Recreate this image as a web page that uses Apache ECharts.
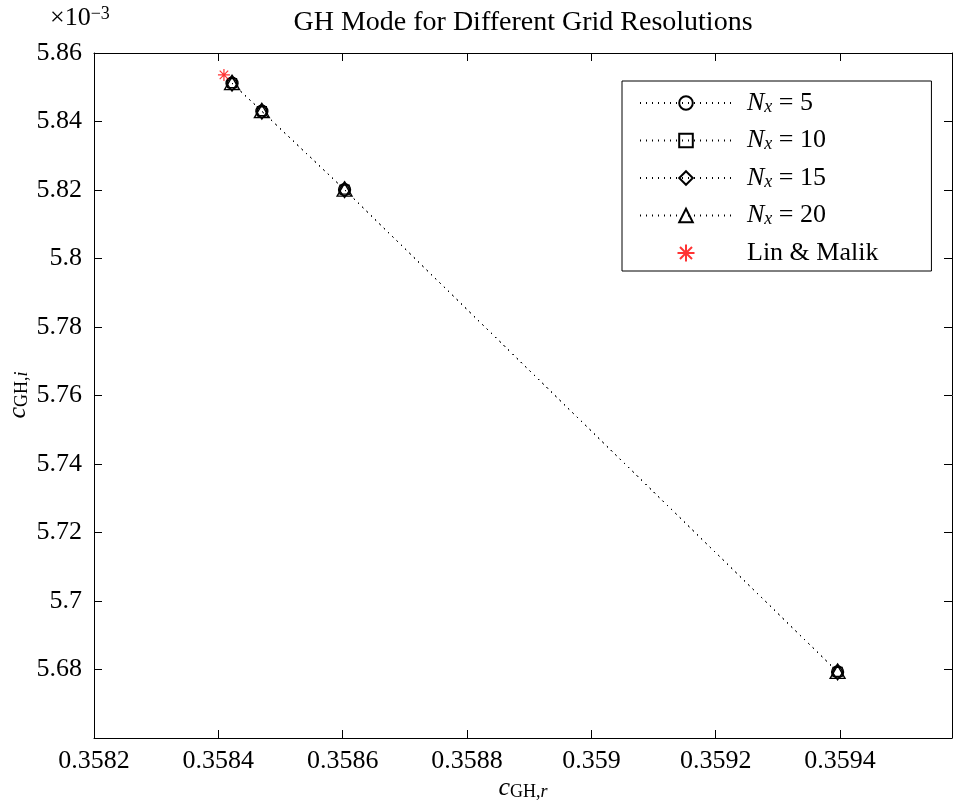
<!DOCTYPE html>
<html><head><meta charset="utf-8">
<script src="https://cdn.jsdelivr.net/npm/echarts@6/dist/echarts.min.js"></script>
<style>html,body{margin:0;padding:0;background:#fff}#c{width:953px;height:805px}</style>
</head><body><div id="c"></div>
<script>
// c_GH,r (x) and c_GH,i (y, in units of 1e-3)
const nx5_r  = [0.358422, 0.358470, 0.358603, 0.359396];
const nx5_i  = [5.8512, 5.8430, 5.8201, 5.6793];
const nx10_r = [0.358422, 0.358470, 0.358603, 0.359396];
const nx10_i = [5.8512, 5.8430, 5.8201, 5.6793];
const nx15_r = [0.358422, 0.358470, 0.358603, 0.359396];
const nx15_i = [5.8512, 5.8430, 5.8201, 5.6793];
const nx20_r = [0.358422, 0.358470, 0.358603, 0.359396];
const nx20_i = [5.8512, 5.8430, 5.8201, 5.6793];
const linMalik_r = [0.358409];
const linMalik_i = [5.8536];
const seriesNames = ['N_x = 5', 'N_x = 10', 'N_x = 15', 'N_x = 20', 'Lin & Malik'];
const xTicks = [0.3582, 0.3584, 0.3586, 0.3588, 0.359, 0.3592, 0.3594];
const yTicks = [5.68, 5.7, 5.72, 5.74, 5.76, 5.78, 5.8, 5.82, 5.84, 5.86];

const FONT = '"Liberation Serif", "DejaVu Serif", serif';
const zip = (a, b) => a.map((v, i) => [v, b[i]]);
const star = 'path://M5,0L5,10M0,5L10,5M1.46,1.46L8.54,8.54M1.46,8.54L8.54,1.46';

const chart = echarts.init(document.getElementById('c'), null, {renderer: 'canvas'});
const lineSeries = (name, r, i, symbol, size) => ({
  name, type: 'line', data: zip(r, i), symbol, symbolSize: size,
  showAllSymbol: true,
  lineStyle: {color: '#000', width: 1, type: [1, 5]},
  itemStyle: {color: 'rgba(255,255,255,0)', borderColor: '#000', borderWidth: 1.3},
  z: 3
});
const baseAxis = {
  axisLine: {show: true, onZero: false, lineStyle: {color: '#000', width: 1}},
  axisTick: {show: true, inside: true, length: 8, lineStyle: {color: '#000', width: 1}},
  splitLine: {show: false}
};
const labelStyle = {color: '#000', fontFamily: FONT, fontSize: 26};
const rich = {
  it: {fontFamily: FONT, fontStyle: 'italic', fontSize: 26, color: '#000', lineHeight: 26},
  n: {fontFamily: FONT, fontSize: 26, color: '#000', lineHeight: 26},
  sub: {fontFamily: FONT, fontStyle: 'italic', fontSize: 18, color: '#000', verticalAlign: 'bottom', lineHeight: 14},
  subr: {fontFamily: FONT, fontSize: 18, color: '#000', verticalAlign: 'bottom', lineHeight: 14},
  sup: {fontFamily: FONT, fontSize: 18, color: '#000', verticalAlign: 'top', lineHeight: 14}
};

chart.setOption({
  animation: false,
  backgroundColor: '#fff',
  grid: {left: 94, right: 1, top: 53, bottom: 67, containLabel: false},
  xAxis: [
    Object.assign({}, baseAxis, {type: 'value', position: 'bottom', min: xTicks[0], max: 0.35958, interval: 0.0002,
      axisLabel: Object.assign({}, labelStyle, {margin: 10, showMaxLabel: false,
        formatter: v => String(parseFloat(v.toFixed(4)))})}),
    Object.assign({}, baseAxis, {type: 'value', position: 'top', min: xTicks[0], max: 0.35958, interval: 0.0002,
      axisLabel: {show: false}})
  ],
  yAxis: [
    Object.assign({}, baseAxis, {type: 'value', position: 'left', min: 5.66, max: yTicks[yTicks.length - 1], interval: 0.02,
      axisLabel: Object.assign({}, labelStyle, {margin: 12, showMinLabel: false,
        formatter: v => String(parseFloat(v.toFixed(2)))})}),
    Object.assign({}, baseAxis, {type: 'value', position: 'right', min: 5.66, max: yTicks[yTicks.length - 1], interval: 0.02,
      axisLabel: {show: false}})
  ],
  legend: {
    orient: 'vertical', left: 622, top: 81,
    backgroundColor: '#fff', borderColor: '#000', borderWidth: 1, borderRadius: 0,
    padding: [9, 53, 5, 17], itemGap: 11.5, itemWidth: 92, itemHeight: 17,
    data: seriesNames.map((n, k) => k === 4 ? {name: n, icon: star} : {name: n}),
    textStyle: {fontFamily: FONT, fontSize: 26, lineHeight: 26, color: '#000', padding: [0, 0, 0, 10], rich},
    formatter: name => {
      const m = name.match(/^N_x = (\d+)$/);
      return m ? '{it|N}{sub|x}{n| = ' + m[1] + '}' : '{n|' + name + '}';
    }
  },
  series: [
    lineSeries(seriesNames[0], nx5_r, nx5_i, 'circle', 12),
    lineSeries(seriesNames[1], nx10_r, nx10_i, 'rect', 9),
    lineSeries(seriesNames[2], nx15_r, nx15_i, 'diamond', [11, 16]),
    lineSeries(seriesNames[3], nx20_r, nx20_i, 'triangle', [15, 13]),
    {name: seriesNames[4], type: 'scatter', data: zip(linMalik_r, linMalik_i), symbol: star, symbolSize: 12,
      itemStyle: {color: 'rgba(255,0,0,0)', borderColor: '#ff0000', borderWidth: 1.2}, z: 4}
  ],
  graphic: [
    {type: 'text', x: 523, y: 23, style: {text: 'GH Mode for Different Grid Resolutions',
      fontFamily: FONT, fontSize: 28, fill: '#000', textAlign: 'center', textVerticalAlign: 'middle'}},
    {type: 'text', x: 50, y: 18, style: {text: '{n|×10}{sup|−3}', rich,
      textAlign: 'left', textVerticalAlign: 'middle'}},
    {type: 'text', x: 523, y: 788, style: {text: '{it|c}{subr|GH,}{sub|r}', rich,
      textAlign: 'center', textVerticalAlign: 'middle'}},
    {type: 'text', x: 18, y: 395, rotation: Math.PI / 2, style: {text: '{it|c}{subr|GH,}{sub|i}', rich,
      textAlign: 'center', textVerticalAlign: 'middle'}}
  ]
});
</script></body></html>
